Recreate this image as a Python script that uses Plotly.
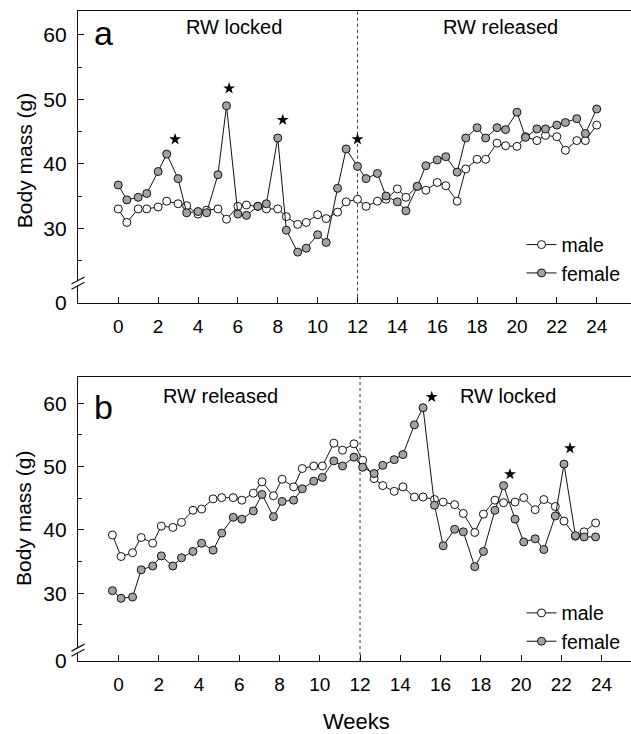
import plotly.graph_objects as go

# ---- sampling schedule (weeks); two weighings per week ----
weeks_a = [0, 0.43, 1, 1.43, 2, 2.43, 3, 3.43, 4, 4.43, 5, 5.43, 6, 6.43, 7, 7.43,
           8, 8.43, 9, 9.43, 10, 10.43, 11, 11.43, 12, 12.43, 13, 13.43, 14, 14.43,
           15, 15.43, 16, 16.43, 17, 17.43, 18, 18.43, 19, 19.43, 20, 20.43, 21,
           21.43, 22, 22.43, 23, 23.43, 24]
weeks_b = [-0.3, 0.13, 0.7, 1.13, 1.7, 2.13, 2.7, 3.13, 3.7, 4.13, 4.7, 5.13, 5.7,
           6.13, 6.7, 7.13, 7.7, 8.13, 8.7, 9.13, 9.7, 10.13, 10.7, 11.13, 11.7,
           12.13, 12.7, 13.13, 13.7, 14.13, 14.7, 15.13, 15.7, 16.13, 16.7, 17.13,
           17.7, 18.13, 18.7, 19.13, 19.7, 20.13, 20.7, 21.13, 21.7, 22.13, 22.7,
           23.13, 23.7]

# ---- panel a: RW locked (0-12 wk), then released (12-24 wk) ----
male_a = [33.0, 30.9, 33.0, 33.0, 33.3, 34.2, 33.8, 33.5, 32.2, 32.8, 33.0, 31.4,
          33.4, 33.6, 33.4, 33.0, 33.0, 31.8, 30.6, 30.9, 32.1, 31.5, 32.5, 34.1,
          34.5, 33.4, 34.2, 34.5, 36.1, 34.8, 36.5, 35.9, 37.1, 36.6, 34.2, 39.2,
          40.7, 40.7, 43.2, 42.8, 42.7, 44.2, 43.6, 44.4, 44.2, 42.1, 43.6, 43.6,
          46.0]
female_a = [36.7, 34.4, 34.8, 35.4, 38.8, 41.5, 37.7, 32.4, 32.6, 32.4, 38.3, 49.0,
            32.2, 32.0, 33.4, 33.8, 44.0, 29.7, 26.3, 26.9, 29.0, 27.8, 36.2, 42.3,
            39.6, 37.7, 38.5, 35.0, 34.1, 32.7, 36.5, 39.7, 40.6, 41.1, 38.7, 44.0,
            45.6, 44.0, 45.6, 45.3, 48.0, 44.1, 45.4, 45.4, 46.0, 46.4, 47.0, 44.7,
            48.5]
star_weeks_a = [2.85, 5.56, 8.25, 12.0]
star_mass_a = [43.8, 51.7, 46.8, 43.8]

# ---- panel b: RW released (0-12 wk), then locked (12-24 wk) ----
male_b = [39.2, 35.8, 36.4, 38.8, 37.9, 40.6, 40.4, 41.2, 43.1, 43.3, 44.9, 45.1,
          45.1, 44.7, 45.8, 47.6, 45.4, 48.0, 46.8, 49.7, 50.1, 50.1, 53.7, 52.6,
          53.6, 51.0, 48.1, 47.0, 46.1, 46.8, 45.2, 45.2, 44.8, 44.4, 44.0, 42.6,
          39.6, 42.5, 44.7, 44.3, 44.4, 45.1, 43.2, 44.8, 43.7, 41.4, 39.0, 39.7,
          41.1]
female_b = [30.4, 29.2, 29.4, 33.7, 34.3, 35.9, 34.3, 35.6, 36.6, 37.9, 36.8, 39.5,
            42.0, 41.7, 43.0, 45.6, 42.1, 44.5, 44.7, 46.5, 47.7, 48.3, 50.9, 50.1,
            51.5, 49.9, 48.9, 50.2, 51.1, 51.9, 56.6, 59.3, 43.9, 37.5, 40.1, 39.7,
            34.2, 36.6, 43.1, 47.0, 41.7, 38.1, 38.6, 36.9, 42.2, 50.4, 39.1, 38.9,
            38.9]
star_weeks_b = [15.56, 19.45, 22.43]
star_mass_b = [61.0, 48.8, 52.9]

x_ticks = list(range(0, 25, 2))
y_ticks = [30, 40, 50, 60]
y_minor = [25, 35, 45, 55]

# broken y axis: "0" is drawn just below the break
ZERO_A, ZERO_B = 18.45, 19.3
RANGE_A, RANGE_B = [ZERO_A, 63.7], [ZERO_B, 64.15]
DOM_A, DOM_B = [0.5512, 1.0], [0.0, 0.4369]
BREAK_A, BREAK_B = 21.5, 21.0

FONT = "Liberation Sans, Arial, sans-serif"
INK = "#111111"
GRAY = "#a3a3a3"

W, H = 631, 734
ML, MR, MT, MB = 78, 0, 11, 73
PW, PH = W - ML - MR, H - MT - MB

fig = go.Figure()


def add_panel(xs, male, female, sx, sy, xa, ya, legend):
    fig.add_trace(go.Scatter(
        x=xs, y=male, mode="lines+markers", name="male",
        xaxis=xa, yaxis=ya, legend=legend,
        line=dict(color=INK, width=1),
        marker=dict(size=8, color="white", line=dict(color=INK, width=1)),
    ))
    fig.add_trace(go.Scatter(
        x=xs, y=female, mode="lines+markers", name="female",
        xaxis=xa, yaxis=ya, legend=legend,
        line=dict(color=INK, width=1),
        marker=dict(size=8, color=GRAY, line=dict(color=INK, width=1)),
    ))
    fig.add_trace(go.Scatter(
        x=sx, y=sy, mode="markers", showlegend=False, hoverinfo="skip",
        xaxis=xa, yaxis=ya,
        marker=dict(symbol="star", size=9, color="black", line=dict(width=0)),
    ))


add_panel(weeks_a, male_a, female_a, star_weeks_a, star_mass_a, "x", "y", "legend")
add_panel(weeks_b, male_b, female_b, star_weeks_b, star_mass_b, "x2", "y2", "legend2")

xcommon = dict(
    tickmode="array", tickvals=x_ticks, ticktext=[str(t) for t in x_ticks],
    ticks="inside", ticklen=6, tickwidth=1, tickcolor=INK,
    showline=True, linecolor=INK, linewidth=1.2, mirror=True,
    showgrid=False, zeroline=False,
    tickfont=dict(family=FONT, size=19, color="black"),
    ticklabelstandoff=6,
)


def yaxis(zero, rng, dom, anchor):
    return dict(
        domain=dom, range=rng, anchor=anchor,
        tickmode="array", tickvals=[zero] + y_ticks,
        ticktext=["0"] + [str(t) for t in y_ticks],
        ticks="inside", ticklen=6, tickwidth=1, tickcolor=INK,
        minor=dict(tickvals=y_minor, ticks="inside", ticklen=4, tickcolor=INK),
        showline=True, linecolor=INK, linewidth=1.2,
        showgrid=False, zeroline=False,
        tickfont=dict(family=FONT, size=21, color="black"),
        ticklabelstandoff=6,
    )


legend_style = dict(xanchor="left", yanchor="middle", bgcolor="rgba(0,0,0,0)",
                    font=dict(family=FONT, size=19.5, color="black"), tracegroupgap=0)

fig.update_layout(
    width=W, height=H,
    margin=dict(l=ML, r=MR, t=MT, b=MB),
    paper_bgcolor="white", plot_bgcolor="white",
    xaxis=dict(domain=[0, 1], range=[-2.02, 25.72], anchor="y", **xcommon),
    xaxis2=dict(domain=[0, 1], range=[-2.01, 25.46], anchor="y2", **xcommon),
    yaxis=yaxis(ZERO_A, RANGE_A, DOM_A, "x"),
    yaxis2=yaxis(ZERO_B, RANGE_B, DOM_B, "x2"),
    legend=dict(x=0.802, y=0.6186, **legend_style),
    legend2=dict(x=0.802, y=0.052, **legend_style),
    showlegend=True,
)

# dotted line at the switch of the running-wheel condition
for xr, yr in (("x", "y"), ("x2", "y2")):
    fig.add_shape(type="line", xref=xr, yref=yr + " domain", x0=12, x1=12, y0=0, y1=1,
                  line=dict(color="#333333", width=1, dash="dot"), layer="below")


def paper_y(v, dom, rng):
    return dom[0] + (v - rng[0]) / (rng[1] - rng[0]) * (dom[1] - dom[0])


# axis-break marks "//" on each y axis
for brk, dom, rng in ((BREAK_A, DOM_A, RANGE_A), (BREAK_B, DOM_B, RANGE_B)):
    yc = paper_y(brk, dom, rng)
    dx, dy = 6.5 / PW, 3.5 / PH
    gap = 2.6 / PH
    fig.add_shape(type="line", xref="paper", yref="paper", x0=0, x1=0,
                  y0=yc - gap, y1=yc + gap, line=dict(color="white", width=3), layer="above")
    for off in (-gap, gap):
        fig.add_shape(type="line", xref="paper", yref="paper",
                      x0=-dx, x1=dx, y0=yc + off - dy, y1=yc + off + dy,
                      line=dict(color=INK, width=1.2), layer="above")

ann = []
# panel letters
ann.append(dict(text="a", xref="paper", yref="y domain", x=0.026, y=0.925,
                xanchor="left", yanchor="middle", showarrow=False,
                font=dict(family=FONT, size=34, color="black")))
ann.append(dict(text="b", xref="paper", yref="y2 domain", x=0.026, y=0.894,
                xanchor="left", yanchor="middle", showarrow=False,
                font=dict(family=FONT, size=34, color="black")))
# phase labels
for txt, xv, yr, yv in (("RW locked", 5.8, "y domain", 0.945),
                        ("RW released", 19.15, "y domain", 0.945),
                        ("RW released", 5.08, "y2 domain", 0.933),
                        ("RW locked", 19.35, "y2 domain", 0.933)):
    ann.append(dict(text=txt, xref="x" if yr.startswith("y ") else "x2", yref=yr,
                    x=xv, y=yv, xanchor="center", yanchor="middle", showarrow=False,
                    font=dict(family=FONT, size=20, color="black")))
# axis titles
for yv in (0.769, 0.2185):
    ann.append(dict(text="Body mass (g)", xref="paper", yref="paper", x=-0.0976, y=yv,
                    xanchor="center", yanchor="middle", textangle=-90, showarrow=False,
                    font=dict(family=FONT, size=21, color="black")))
ann.append(dict(text="Weeks", xref="paper", yref="paper", x=0.5045, y=-0.0938,
                xanchor="center", yanchor="middle", showarrow=False,
                font=dict(family=FONT, size=22, color="black")))
fig.update_layout(annotations=ann)

fig.write_html("out.html")
